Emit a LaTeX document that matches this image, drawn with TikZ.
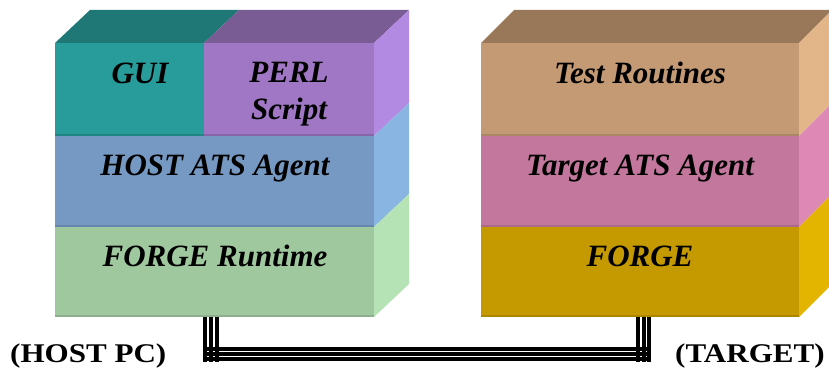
\documentclass[tikz,border=0pt]{standalone}
\usepackage{fontspec}
\setmainfont{Liberation Serif}
\definecolor{guiF}{HTML}{279C9A}
\definecolor{guiT}{HTML}{1F7876}
\definecolor{perlF}{HTML}{9F77C4}
\definecolor{perlT}{HTML}{795C93}
\definecolor{perlS}{HTML}{B38AE2}
\definecolor{hostF}{HTML}{7699C4}
\definecolor{hostS}{HTML}{88B5E1}
\definecolor{frtF}{HTML}{9FC89F}
\definecolor{frtS}{HTML}{B5E3B5}
\definecolor{trF}{HTML}{C49A74}
\definecolor{trT}{HTML}{987859}
\definecolor{trS}{HTML}{E3B689}
\definecolor{taF}{HTML}{C4779D}
\definecolor{taS}{HTML}{DE88B5}
\definecolor{fgF}{HTML}{C49A00}
\definecolor{fgS}{HTML}{E3B500}
\tikzset{
  face/.style={inner sep=0pt, outer sep=0pt, anchor=north west},
  lbl/.style={inner sep=0pt, anchor=base, text=black, font=\bfseries\itshape\fontsize{31}{37}\selectfont},
  caplbl/.style={inner sep=0pt, anchor=base west, text=black, font=\bfseries\fontsize{27}{32}\selectfont},
  wire/.style={line width=4pt, black},
}
\begin{document}
\begin{tikzpicture}[x=1pt,y=-1pt]
\useasboundingbox (0,0) rectangle (829,369);
\clip (0,0) rectangle (829,369);
% ---- left stack front faces
\node[face, fill=guiF, minimum width=149pt, minimum height=93pt] (gui) at (55,43) {};
\node[face, fill=perlF, minimum width=170pt, minimum height=93pt] (perl) at (204,43) {};
\node[face, fill=hostF, minimum width=319pt, minimum height=91pt] (host) at (55,136) {};
\node[face, fill=frtF, minimum width=319pt, minimum height=90pt] (frt) at (55,227) {};
% bottom shading strips
\fill[guiF!85!black] ([yshift=2pt]gui.south west) rectangle (gui.south east);
\fill[perlF!85!black] ([yshift=2pt]perl.south west) rectangle (perl.south east);
\fill[hostF!88!black] ([yshift=2pt]host.south west) rectangle (host.south east);
\fill[frtF!88!black] ([yshift=2pt]frt.south west) rectangle (frt.south east);
% top faces
\fill[guiT] (gui.north west) -- ++(35,-33) -- ([shift={(35,-33)}]gui.north east) -- (gui.north east) -- cycle;
\fill[perlT] (perl.north west) -- ++(35,-33) -- ([shift={(35,-33)}]perl.north east) -- (perl.north east) -- cycle;
% side faces
\fill[perlS] (perl.north east) -- ++(35,-33) -- ([shift={(35,-33)}]perl.south east) -- (perl.south east) -- cycle;
\fill[hostS] (host.north east) -- ++(35,-33) -- ([shift={(35,-33)}]host.south east) -- (host.south east) -- cycle;
\fill[frtS] (frt.north east) -- ++(35,-33) -- ([shift={(35,-33)}]frt.south east) -- (frt.south east) -- cycle;
% ---- right stack front faces
\node[face, fill=trF, minimum width=318pt, minimum height=93pt] (tr) at (481,43) {};
\node[face, fill=taF, minimum width=318pt, minimum height=91pt] (ta) at (481,136) {};
\node[face, fill=fgF, minimum width=318pt, minimum height=90pt] (fg) at (481,227) {};
\fill[trF!88!black] ([yshift=2pt]tr.south west) rectangle (tr.south east);
\fill[taF!88!black] ([yshift=2pt]ta.south west) rectangle (ta.south east);
\fill[fgF!88!black] ([yshift=2pt]fg.south west) rectangle (fg.south east);
\fill[trT] (tr.north west) -- ++(33,-33) -- ([shift={(33,-33)}]tr.north east) -- (tr.north east) -- cycle;
\fill[trS] (tr.north east) -- ++(33,-33) -- ([shift={(33,-33)}]tr.south east) -- (tr.south east) -- cycle;
\fill[taS] (ta.north east) -- ++(33,-33) -- ([shift={(33,-33)}]ta.south east) -- (ta.south east) -- cycle;
\fill[fgS] (fg.north east) -- ++(33,-33) -- ([shift={(33,-33)}]fg.south east) -- (fg.south east) -- cycle;
% ---- labels
\node[lbl] (tgui) at (140,83) {GUI};
\node[lbl, anchor=north, align=center] (tperl) at (289,62.5) {PERL\\Script};
\node[lbl] (thost) at (215,175) {HOST ATS Agent};
\node[lbl] (tfrt) at (215,266) {FORGE Runtime};
\node[lbl] (ttr) at (640,83) {Test Routines};
\node[lbl] (tta) at (640,175) {Target ATS Agent};
\node[lbl] (tfg) at (640,266) {FORGE};
\node[caplbl] (hostpc) at (10,362) {\scalebox{1.15}[1]{(HOST PC)}};
\node[caplbl] (target) at (675,362) {\scalebox{1.15}[1]{(TARGET)}};
% ---- triple-line connector
\coordinate (hA) at ([xshift=-3.5pt]frt.south);
\coordinate (tA) at ([xshift=3.7pt]fg.south);
\foreach \d in {-5.6,0,5.6}{
  \draw[wire] ([xshift=\d pt]hA) -- ++(0,44.5);
  \draw[wire] ([xshift=\d pt]tA) -- ++(0,44.5);
}
\foreach \h in {31.6,37,42.4}{
  \draw[wire] ([shift={(-7.5,\h)}]hA) -- ([shift={(7.6,\h)}]tA);
}
\end{tikzpicture}
\end{document}
